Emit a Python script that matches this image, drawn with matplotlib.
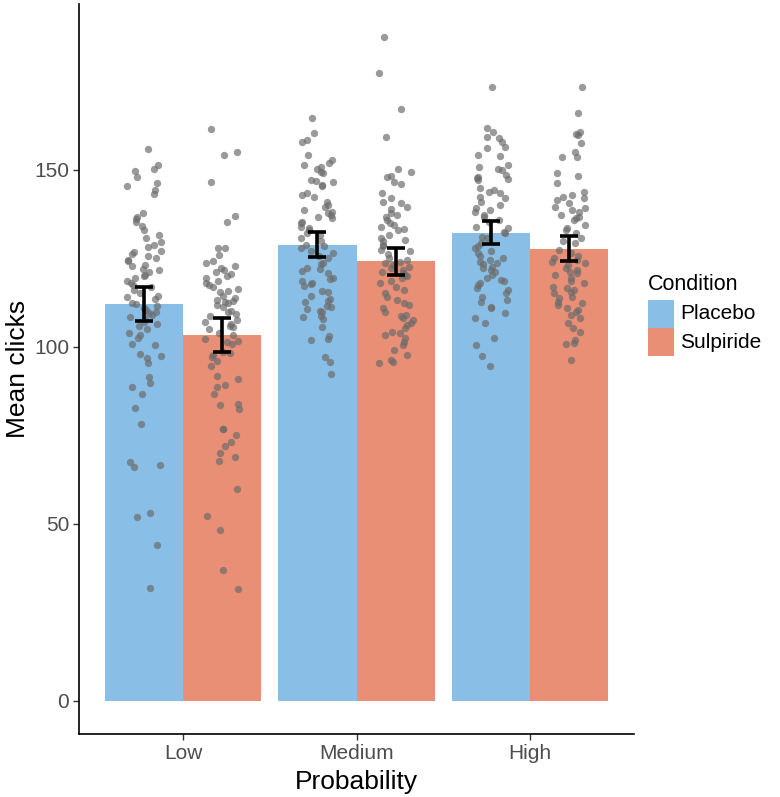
import numpy as np
import matplotlib
matplotlib.use("Agg")
import matplotlib.pyplot as plt
from matplotlib.patches import Rectangle

plt.rcParams['font.family'] = ['Liberation Sans', 'DejaVu Sans']

probabilities = ["Low", "Medium", "High"]
conditions = ["Placebo", "Sulpiride"]

# bar means and standard errors
means = {
    "Placebo":   [112.1, 128.9, 132.3],
    "Sulpiride": [103.4, 124.2, 127.8],
}
ses = {
    "Placebo":   [4.85, 3.5, 3.35],
    "Sulpiride": [4.7, 3.8, 3.55],
}

low_placebo = [156.0, 151.4, 150.4, 149.6, 147.9, 146.4, 145.4, 144.4, 143.3, 137.8,
               136.8, 136.1, 135.3, 134.2, 133.1, 130.7, 129.7, 128.7, 128.2, 127.2,
               126.7, 126.2, 125.7, 124.7, 124.2, 123.2, 122.1, 121.6, 121.1, 120.3,
               120.1, 119.6, 118.6, 117.6, 116.9, 116.1, 115.1, 114.1, 113.6, 112.5,
               112.0, 111.5, 111.0, 110.0, 109.5, 109.0, 108.5, 108.0, 107.0, 106.5,
               106.0, 105.0, 104.0, 103.5, 102.5, 100.9, 100.5, 97.9, 97.4, 96.9,
               95.4, 91.4, 89.8, 88.8, 86.8, 82.8, 78.2, 67.6, 66.6, 66.1,
               53.0, 52.0, 43.9, 31.8, 118.0, 125.0, 131.5, 114.5, 110.5, 122.8]
low_sulpiride = [161.5, 155.2, 154.2, 146.5, 136.9, 135.3, 128.0, 128.0, 125.9, 124.3,
                 123.8, 122.8, 122.3, 121.7, 121.2, 120.7, 119.6, 118.6, 118.0, 117.5,
                 116.5, 115.9, 115.4, 114.4, 113.9, 113.3, 112.8, 112.3, 111.8, 111.2,
                 110.2, 109.2, 108.6, 107.6, 107.1, 106.5, 105.5, 105.0, 103.9, 103.4,
                 102.3, 101.3, 100.8, 98.7, 98.2, 97.6, 97.1, 96.0, 94.5, 91.9,
                 90.8, 89.3, 88.7, 86.6, 84.0, 83.5, 82.5, 76.7, 76.7, 75.1,
                 73.2, 72.0, 69.9, 68.8, 67.8, 59.9, 52.1, 48.4, 36.9, 31.6,
                 117.0, 113.0, 109.8, 106.0, 120.0, 101.8]
medium_placebo = [164.6, 160.5, 158.5, 157.8, 154.2, 152.8, 152.1, 151.4, 150.9, 150.2,
                  149.5, 149.1, 147.2, 146.7, 147.0, 145.8, 145.5, 143.4, 142.9, 142.3,
                  141.0, 140.1, 139.5, 138.7, 138.2, 137.8, 137.3, 136.8, 136.4, 135.4,
                  135.0, 134.0, 133.6, 133.1, 132.2, 131.7, 130.8, 129.8, 128.9, 128.4,
                  128.0, 127.0, 126.6, 125.6, 125.2, 123.8, 123.3, 122.4, 121.9, 121.4,
                  121.0, 119.6, 119.1, 118.6, 118.2, 117.7, 117.2, 115.8, 115.4, 114.4,
                  113.5, 113.0, 112.6, 111.6, 111.2, 110.7, 110.2, 109.8, 108.8, 108.4,
                  107.9, 105.6, 103.2, 102.3, 102.0, 97.1, 95.7, 92.4]
medium_sulpiride = [187.7, 177.3, 167.2, 159.2, 150.4, 149.5, 148.3, 148.1, 146.7, 146.0,
                    143.4, 142.0, 141.0, 140.6, 139.6, 138.9, 137.8, 137.3, 136.8, 135.9,
                    135.0, 134.5, 134.0, 133.3, 133.1, 131.7, 130.8, 130.2, 129.8, 128.9,
                    128.4, 127.4, 127.0, 126.3, 125.1, 124.6, 124.1, 123.6, 123.2, 122.7,
                    122.2, 121.8, 121.3, 120.8, 120.3, 119.9, 119.4, 118.5, 118.0, 117.0,
                    116.1, 115.2, 114.2, 113.3, 112.3, 111.9, 110.9, 110.0, 109.0, 108.6,
                    108.1, 107.6, 106.7, 106.2, 105.3, 104.3, 103.9, 103.4, 102.5, 101.5,
                    100.6, 99.2, 96.3, 95.8, 95.4, 97.7]
high_placebo = [173.4, 161.8, 160.8, 158.9, 159.2, 158.0, 156.6, 156.1, 154.2, 154.0,
                151.4, 150.8, 150.2, 150.0, 148.6, 148.1, 147.7, 147.4, 147.2, 144.8,
                144.4, 143.9, 143.6, 142.5, 142.0, 141.0, 140.1, 139.2, 138.7, 138.2,
                137.3, 136.8, 135.9, 135.4, 134.0, 133.6, 132.6, 132.1, 131.2, 130.7,
                129.3, 128.4, 127.9, 127.0, 126.5, 125.6, 125.1, 124.6, 124.1, 123.6,
                123.4, 122.7, 122.2, 121.8, 121.3, 120.3, 119.4, 118.9, 118.5, 118.0,
                117.5, 116.6, 116.1, 115.2, 114.2, 113.3, 112.8, 111.4, 110.9, 109.5,
                108.1, 106.7, 102.5, 100.6, 97.3, 94.6]
high_sulpiride = [173.5, 166.0, 160.8, 159.9, 160.2, 157.5, 155.2, 153.8, 153.6, 149.1,
                  148.3, 146.2, 143.9, 142.9, 142.3, 142.0, 141.5, 140.8, 139.6, 139.2,
                  138.7, 138.2, 137.3, 136.8, 136.4, 135.9, 134.5, 133.6, 133.1, 132.2,
                  130.7, 129.8, 129.3, 127.4, 126.5, 125.6, 125.1, 124.6, 124.1, 123.6,
                  123.2, 122.2, 121.8, 121.3, 120.8, 120.3, 119.4, 118.5, 118.0, 117.0,
                  116.6, 116.1, 115.6, 115.2, 114.2, 113.8, 112.8, 112.3, 111.9, 110.9,
                  110.5, 110.0, 109.0, 108.1, 106.7, 105.3, 104.3, 101.9, 101.0, 100.8,
                  96.3]

points = {
    ("Low", "Placebo"): low_placebo,
    ("Low", "Sulpiride"): low_sulpiride,
    ("Medium", "Placebo"): medium_placebo,
    ("Medium", "Sulpiride"): medium_sulpiride,
    ("High", "Placebo"): high_placebo,
    ("High", "Sulpiride"): high_sulpiride,
}

colors = {"Placebo": "#89BEE6", "Sulpiride": "#E88F75"}

W, H = 780, 797
fig = plt.figure(figsize=(W / 100, H / 100), dpi=100)
ax = fig.add_axes([79 / W, 1 - 734 / H, (634 - 79) / W, (734 - 4) / H])

bar_w = 0.45
x = np.arange(len(probabilities)) + 1
offsets = {"Placebo": -bar_w / 2, "Sulpiride": bar_w / 2}

for cond in conditions:
    ax.bar(x + offsets[cond], means[cond], width=bar_w, color=colors[cond],
           zorder=1, linewidth=0)

# jittered points (horizontal jitter only, as in geom_jitter)
rng = np.random.default_rng(7)
for i, p in enumerate(probabilities):
    for cond in conditions:
        vals = np.array(points[(p, cond)])
        jit = rng.uniform(-0.1, 0.1, size=len(vals))
        ax.scatter(x[i] + offsets[cond] + jit, vals, s=28, color="#6b6b6b",
                   alpha=0.68, linewidths=0, zorder=2)

for cond in conditions:
    ax.errorbar(x + offsets[cond], means[cond], yerr=ses[cond], fmt="none",
                ecolor="black", elinewidth=2.6, capsize=6.2, capthick=2.6, zorder=3)

ax.set_xlim(0.4, 3.6)
ax.set_ylim(-9.38, 196.9)
ax.set_xticks(x)
ax.set_xticklabels(probabilities)
ax.set_yticks([0, 50, 100, 150])
for s in ["top", "right"]:
    ax.spines[s].set_visible(False)
for s in ["left", "bottom"]:
    ax.spines[s].set_linewidth(1.2)
ax.tick_params(axis="both", colors="#333333", labelcolor="#4D4D4D",
               labelsize=15, length=4, width=1.0)
ax.tick_params(axis="y", pad=3)
ax.set_xlabel("Probability", fontsize=19, labelpad=5)
ax.set_ylabel("Mean clicks", fontsize=19, labelpad=3)

# legend (drawn in figure pixel coordinates)
key_x, key_w, key_h, key_top = 648, 26, 28, 300
fig.text(key_x / W, 1 - 284 / H, "Condition", fontsize=15.5, va="center", ha="left")
for j, cond in enumerate(conditions):
    top = key_top + j * key_h
    fig.add_artist(Rectangle((key_x / W, 1 - (top + key_h) / H), key_w / W, key_h / H,
                             transform=fig.transFigure, facecolor=colors[cond],
                             edgecolor="none"))
    fig.text((key_x + key_w + 6) / W, 1 - (top + key_h / 2) / H, cond,
             fontsize=15, va="center", ha="left")

fig.savefig("out.png", dpi=100)
